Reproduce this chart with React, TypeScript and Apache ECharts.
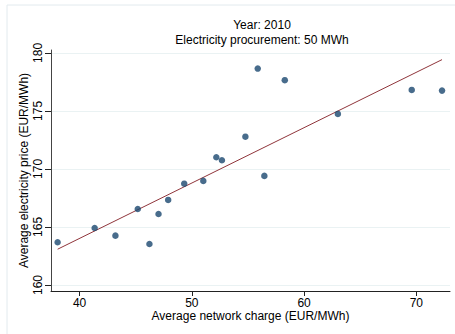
import React, { useEffect, useRef } from "react";
import * as echarts from "echarts";

const titleLines = ["Year: 2010", "Electricity procurement: 50 MWh"];
const xName = "Average network charge (EUR/MWh)";
const yName = "Average electricity price (EUR/MWh)";
const xTicks = [40, 50, 60, 70];
const yTicks = [160, 165, 170, 175, 180];

const networkCharge = [38.04, 41.34, 43.19, 45.18, 46.22, 47.03, 47.89, 49.32, 51.02, 52.18, 52.68, 54.77, 55.87, 56.46, 58.28, 63.01, 69.59, 72.29];
const electricityPrice = [163.68, 164.91, 164.25, 166.55, 163.53, 166.12, 167.33, 168.73, 168.97, 171.01, 170.75, 172.78, 178.65, 169.4, 177.65, 174.74, 176.81, 176.75];
const fitX = [38.04, 72.29];
const fitY = [163.08, 179.42];

const FONT = "'Liberation Sans', Arial, sans-serif";

export default function App() {
  const ref = useRef<HTMLDivElement>(null);
  useEffect(() => {
    if (!ref.current) return;
    const chart = echarts.init(ref.current, null, { renderer: "svg" });
    const points = networkCharge.map((x, i) => [x, electricityPrice[i]]);
    const fit = fitX.map((x, i) => [x, fitY[i]]);
    chart.setOption({
      animation: false,
      backgroundColor: "#ffffff",
      textStyle: { fontFamily: FONT },
      graphic: [
        {
          type: "rect",
          shape: { x: 7, y: 5, width: 470, height: 350 },
          style: { fill: "none", stroke: "#e2eaee", lineWidth: 1 },
          silent: true,
        },
        {
          type: "text",
          x: 262,
          y: 17,
          style: {
            text: titleLines.join("\n"),
            align: "center",
            verticalAlign: "top",
            fontSize: 12,
            lineHeight: 15,
            fontFamily: FONT,
            fill: "#000",
          },
        },
      ],
      grid: { left: 51, right: 5, top: 50, bottom: 43 },
      xAxis: {
        type: "value",
        min: 37.45,
        max: 73.0,
        name: xName,
        nameLocation: "middle",
        nameGap: 19,
        nameMoveOverlap: false,
        nameTextStyle: { fontSize: 12, color: "#000", fontFamily: FONT },
        axisLine: { show: true, lineStyle: { color: "#222", width: 1 } },
        axisTick: { show: true, length: 5, customValues: xTicks, lineStyle: { color: "#222" } },
        axisLabel: { customValues: xTicks, fontSize: 12, color: "#000", margin: 6, fontFamily: FONT },
        splitLine: { show: false },
      },
      yAxis: {
        type: "value",
        min: 159.48,
        max: 180.25,
        name: yName,
        nameLocation: "middle",
        nameGap: 21,
        nameRotate: 90,
        nameMoveOverlap: false,
        nameTextStyle: { fontSize: 12, color: "#000", fontFamily: FONT },
        axisLine: { show: true, lineStyle: { color: "#444", width: 1 } },
        axisTick: { show: true, length: 6, customValues: yTicks, lineStyle: { color: "#222" } },
        axisLabel: { customValues: yTicks, fontSize: 12, color: "#000", margin: 7, rotate: 90, fontFamily: FONT },
        splitLine: { show: true, lineStyle: { color: "#eaf2f3", width: 1 } },
      },
      series: [
        {
          type: "line",
          data: fit,
          showSymbol: false,
          symbol: "none",
          clip: false,
          lineStyle: { color: "#90353b", width: 1 },
          z: 2,
        },
        {
          type: "scatter",
          data: points,
          symbol: "circle",
          symbolSize: 6.5,
          clip: false,
          itemStyle: { color: "#1a476f" },
          z: 3,
        },
      ],
    });
    return () => chart.dispose();
  }, []);
  return (
    <div
      ref={ref}
      style={{ position: "absolute", left: 0, top: 0, width: 455, height: 334 }}
    />
  );
}
